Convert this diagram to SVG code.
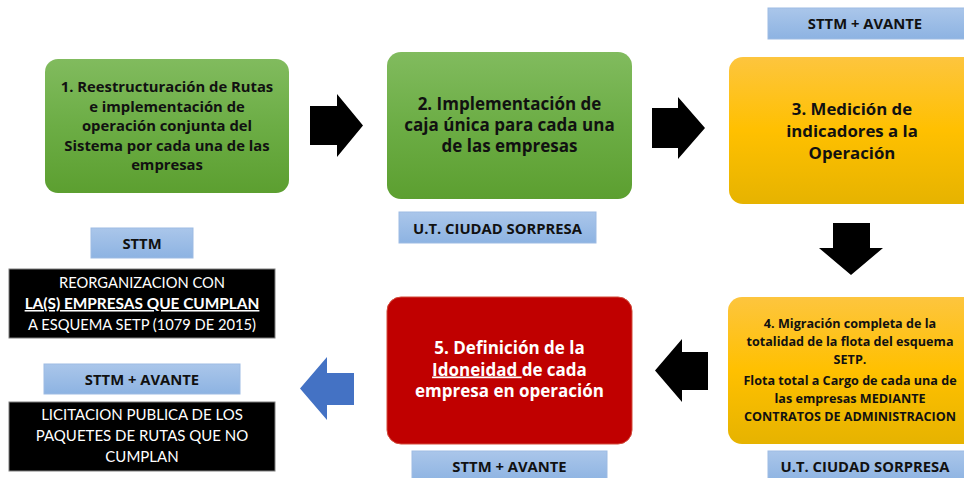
<svg xmlns="http://www.w3.org/2000/svg" width="964" height="478" viewBox="0 0 964 478">
<defs>
<linearGradient id="gGreen" x1="0" y1="0" x2="0" y2="1">
<stop offset="0" stop-color="#81bb5e"/><stop offset="0.5" stop-color="#6cad45"/><stop offset="1" stop-color="#5c9f30"/>
</linearGradient>
<linearGradient id="gOrange" x1="0" y1="0" x2="0" y2="1">
<stop offset="0" stop-color="#fdc53e"/><stop offset="0.5" stop-color="#ffc000"/><stop offset="1" stop-color="#e6b300"/>
</linearGradient>
<linearGradient id="gBlue" x1="0" y1="0" x2="0" y2="1">
<stop offset="0" stop-color="#aac6ea"/><stop offset="1" stop-color="#8db3e2"/>
</linearGradient>
<style>
.t{font-family:"Open Sans","Noto Sans","Liberation Sans",sans-serif;font-weight:bold;text-anchor:middle;fill:#111}
.w{fill:#fff}
.r{font-family:Lato,"Open Sans","Liberation Sans",sans-serif;font-weight:normal}
.lab{fill:url(#gBlue);stroke:#9dbbe3;stroke-width:1}
.lt{font-size:14.8px}
.blk{fill:#000;stroke:#7f7f7f;stroke-width:1}
.arr{fill:#000}
</style>
</defs>

<g id="connectors">
<polygon class="arr" points="310,106 337,106 337,94 363,125.5 337,157 337,145 310,145"/>
<polygon class="arr" points="652,108 678,108 678,97 705,128 678,159 678,148 652,148"/>
<polygon class="arr" points="833,223 870,223 870,248 883,248 851,275 819,248 833,248"/>
<polygon class="arr" points="708,352 682,352 682,339 655,370.5 682,402 682,390 708,390"/>
<polygon fill="#4472c4" points="354,373 327,373 327,357 300,388.5 327,420 327,405 354,405"/>
</g>

<g id="node1">
<rect x="45" y="59" width="244" height="134" rx="13" fill="url(#gGreen)"/>
<text class="t" font-size="14.8"><tspan x="167" y="92">1. Reestructuración de Rutas</tspan><tspan x="167" y="111.5">e implementación de</tspan><tspan x="167" y="131">operación conjunta del</tspan><tspan x="167" y="150.5">Sistema por cada una de las</tspan><tspan x="167" y="170">empresas</tspan></text>
</g>

<g id="node2">
<rect x="387" y="52" width="245" height="147" rx="14" fill="url(#gGreen)"/>
<text class="t" font-size="17"><tspan x="509.5" y="110">2. Implementación de</tspan><tspan x="509.5" y="131">caja única para cada una</tspan><tspan x="509.5" y="152">de las empresas</tspan></text>
</g>

<g id="label2">
<rect class="lab" x="399" y="212" width="197" height="31"/>
<text class="t lt" x="497.5" y="233.5">U.T. CIUDAD SORPRESA</text>
</g>

<g id="label3">
<rect class="lab" x="768" y="8" width="200" height="31"/>
<text class="t lt" x="865" y="29">STTM + AVANTE</text>
</g>

<g id="node3">
<rect x="729" y="57" width="250" height="147" rx="14" fill="url(#gOrange)"/>
<text class="t" font-size="16.8"><tspan x="852" y="115">3. Medición de</tspan><tspan x="852" y="137">indicadores a la</tspan><tspan x="852" y="159">Operación</tspan></text>
</g>

<g id="node4">
<rect x="728" y="297" width="250" height="147" rx="14" fill="url(#gOrange)"/>
<text class="t" font-size="12.6"><tspan x="850" y="328">4. Migración completa de la</tspan><tspan x="850" y="346">totalidad de la flota del esquema</tspan><tspan x="850" y="364">SETP.</tspan><tspan x="850" y="385">Flota total a Cargo de cada una de</tspan><tspan x="850" y="403">las empresas MEDIANTE</tspan><tspan x="850" y="421">CONTRATOS DE ADMINISTRACION</tspan></text>
</g>

<g id="label4">
<rect class="lab" x="768" y="451" width="200" height="31"/>
<text class="t lt" x="865" y="472">U.T. CIUDAD SORPRESA</text>
</g>

<g id="node5">
<rect x="387" y="297" width="245" height="147" rx="14" fill="#c00000" stroke="#d24a3a" stroke-width="1"/>
<text class="t w" font-size="17"><tspan x="509.5" y="354">5. Definición de la</tspan><tspan x="509.5" y="375.5"><tspan text-decoration="underline">Idoneidad </tspan>de cada</tspan><tspan x="509.5" y="397">empresa en operación</tspan></text>
</g>

<g id="label5">
<rect class="lab" x="412" y="451" width="195" height="31"/>
<text class="t lt" x="509.5" y="472">STTM + AVANTE</text>
</g>

<g id="labelA">
<rect class="lab" x="91" y="228" width="102" height="30"/>
<text class="t lt" x="142" y="248.5">STTM</text>
</g>

<g id="nodeA">
<rect class="blk" x="9" y="269" width="266" height="69"/>
<text class="t w r" font-size="14.7"><tspan x="142" y="288">REORGANIZACION CON</tspan><tspan x="142" y="309" font-weight="bold" font-size="15.4" text-decoration="underline">LA(S) EMPRESAS QUE CUMPLAN</tspan><tspan x="142" y="330">A ESQUEMA SETP (1079 DE 2015)</tspan></text>
</g>

<g id="labelB">
<rect class="lab" x="44" y="364" width="196" height="30"/>
<text class="t lt" x="142" y="384.5">STTM + AVANTE</text>
</g>

<g id="nodeB">
<rect class="blk" x="9" y="402" width="266" height="69"/>
<text class="t w r" font-size="15"><tspan x="142" y="419.5">LICITACION PUBLICA DE LOS</tspan><tspan x="142" y="441">PAQUETES DE RUTAS QUE NO</tspan><tspan x="142" y="462">CUMPLAN</tspan></text>
</g>
</svg>
